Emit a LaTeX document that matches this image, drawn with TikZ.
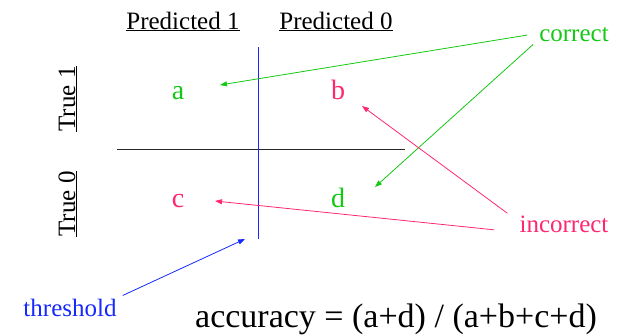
\documentclass[tikz,border=0pt]{standalone}
\usepackage{fontspec}
\setmainfont{Liberation Serif}
\usetikzlibrary{arrows.meta}
\definecolor{okgreen}{RGB}{20,200,20}
\definecolor{badpink}{RGB}{255,40,110}
\definecolor{cutblue}{RGB}{20,40,255}
\definecolor{gridgray}{RGB}{40,40,40}

\begin{document}
\begin{tikzpicture}[x = 1pt, y = -1pt, >={Triangle[length=7pt, width=5pt]},
    head/.style = {font = \fontsize{25}{30}\selectfont, inner sep = 3pt, anchor = base},
    cell/.style = {font = \fontsize{28}{32}\selectfont, inner sep = 3pt, anchor = base},
    pointer/.style = {->, line width = 0.8pt}]
    \useasboundingbox (0,0) rectangle (618,335);

    % table heads
    \node[head] (pred1) at (183,29) {\underline{Predicted 1}};
    \node[head] (pred0) at (336,29) {\underline{Predicted 0}};
    \node[head, rotate = 90] (true1) at (75,99) {\underline{True 1}};
    \node[head, rotate = 90] (true0) at (75,204) {\underline{True 0}};

    % grid
    \draw[line width = 0.8pt, draw = gridgray] (117,149) -- (405,149);
    \draw[line width = 0.8pt, draw = cutblue] (258,47) -- (258,239);

    % cells
    \node[cell, text = okgreen] (a) at (178,99) {a};
    \node[cell, text = badpink] (b) at (338,99) {b};
    \node[cell, text = badpink] (c) at (178,207) {c};
    \node[cell, text = okgreen] (d) at (338,207) {d};

    % labels
    \node[head, text = okgreen] (correct) at (574,41) {correct};
    \node[head, text = badpink] (incorrect) at (564,232) {incorrect};
    \node[head, text = cutblue] (threshold) at (70,316) {threshold};
    \node[head, font = \fontsize{34}{40}\selectfont] (accuracy) at (396,327) {accuracy = (a+d) / (a+b+c+d)};

    % arrow ends
    \coordinate (a-in) at (220,85);
    \coordinate (b-in) at (362,106);
    \coordinate (c-in) at (215,201);
    \coordinate (d-in) at (375,187);
    \coordinate (cut-in) at (245,239);

    \draw[pointer, okgreen] (correct.west) ++(-9,1) -- (a-in);
    \draw[pointer, okgreen] (correct.south west) ++(-3,0) -- (d-in);
    \draw[pointer, badpink] (incorrect.north west) ++(-9,1) -- (b-in);
    \draw[pointer, badpink] (incorrect.west) ++(-22,6) -- (c-in);
    \draw[pointer, cutblue] (threshold.north east) ++(3,0) -- (cut-in);

\end{tikzpicture}
\end{document}
